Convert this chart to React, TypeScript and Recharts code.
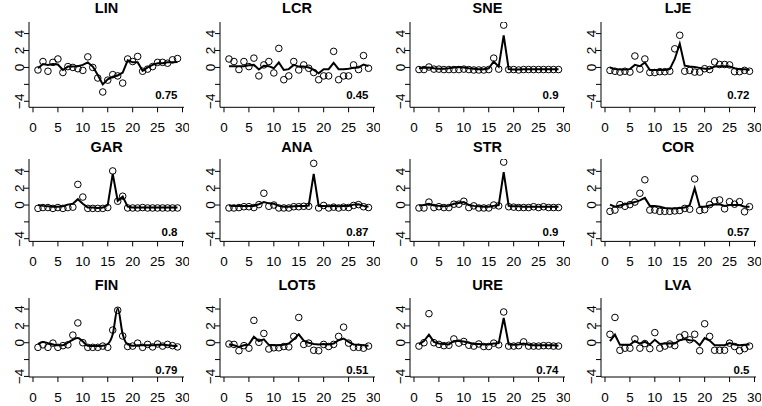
import { LineChart, Line, XAxis, YAxis, ReferenceDot } from 'recharts'

const days = [1, 2, 3, 4, 5, 6, 7, 8, 9, 10, 11, 12, 13, 14, 15, 16, 17, 18, 19, 20, 21, 22, 23, 24, 25, 26, 27, 28, 29]
const panelNames = ['LIN', 'LCR', 'SNE', 'LJE', 'GAR', 'ANA', 'STR', 'COR', 'FIN', 'LOT5', 'URE', 'LVA']
const scores = ['0.75', '0.45', '0.9', '0.72', '0.8', '0.87', '0.9', '0.57', '0.79', '0.51', '0.74', '0.5']
const xTicks = [0, 5, 10, 15, 20, 25, 30]
const yTicks = [-4, -2, 0, 2, 4]

const linObs = [-0.3, 0.7, -0.45, 0.6, 1.0, -0.6, 0.1, 0, -0.15, -0.35, 1.25, 0, -1.25, -2.9, -1.5, -0.85, -1.0, -1.85, 1.0, 0.7, 1.3, -0.45, -0.2, 0.1, 0.6, 0.6, 0.5, 0.9, 1.05]
const linFit = [-0.1, 0.4, 0.3, 0.4, 0.35, -0.3, 0.1, 0.1, 0.15, 0.3, 0.6, 0.1, -0.9, -2.0, -1.4, -1.1, -0.95, -0.6, 0.85, 0.6, 0.6, -0.4, 0, 0.3, 0.5, 0.5, 0.6, 0.6, 0.65]
const lcrObs = [1.0, 0.7, -0.25, 0.7, 0.1, 1.1, -1.0, 0.3, 0.7, -0.65, 2.25, -1.45, -1.0, 0.7, -0.3, 0.3, -0.1, -0.6, -1.45, -1.0, -1.0, 1.9, -1.45, -1.0, -1.0, 0.3, -0.25, 1.4, -0.1]
const lcrFit = [0.15, 0.15, 0.15, 0.15, 0.25, 0.3, -0.25, 0.2, 0.15, -0.1, 0.6, -0.3, -0.2, 0.3, 0.1, 0.1, 0, -0.3, -0.7, -0.2, -0.2, 0.55, -0.2, -0.2, -0.15, -0.05, 0, 0.35, 0.15]
const sneObs = [-0.25, -0.25, 0.05, -0.2, -0.2, -0.25, -0.25, -0.25, -0.25, -0.2, -0.25, -0.3, -0.3, -0.3, -0.25, 1.1, -0.2, 5.0, -0.25, -0.25, -0.3, -0.25, -0.25, -0.25, -0.25, -0.25, -0.25, -0.25, -0.25]
const sneFit = [-0.1, -0.05, 0, -0.1, -0.15, -0.15, -0.1, 0, 0.05, 0, -0.1, -0.15, -0.2, -0.2, -0.1, 0.7, 0.1, 3.8, -0.2, -0.25, -0.25, -0.2, -0.2, -0.2, -0.2, -0.2, -0.2, -0.2, -0.2]
const ljeObs = [-0.35, -0.45, -0.55, -0.45, -0.55, 1.35, -0.2, 1.0, -0.6, -0.6, -0.5, -0.5, -0.45, 2.2, 3.8, -0.45, -0.35, -0.55, -0.55, -0.15, -0.25, 0.65, 0.35, 0.35, 0.3, -0.5, -0.5, -0.35, -0.45]
const ljeFit = [0, -0.2, -0.25, -0.25, -0.2, 0.3, 0.15, 0.6, -0.3, -0.3, -0.3, -0.3, -0.2, 1.0, 2.8, 0.2, 0.1, 0.05, -0.05, -0.15, -0.15, 0.1, 0.15, 0.15, 0.1, -0.1, -0.2, -0.2, -0.3]
const garObs = [-0.4, -0.3, -0.3, -0.4, -0.3, -0.4, -0.3, -0.25, 2.45, 0.95, -0.4, -0.4, -0.4, -0.4, -0.3, 4.05, 0.45, 1.05, -0.35, -0.35, -0.35, -0.3, -0.35, -0.35, -0.35, -0.35, -0.35, -0.35, -0.35]
const garFit = [0, -0.1, -0.15, -0.2, -0.2, -0.15, 0.05, 0.15, 0.7, 0.15, -0.3, -0.3, -0.35, -0.3, 0, 3.7, 0.5, 1.0, -0.2, -0.3, -0.3, -0.3, -0.3, -0.3, -0.3, -0.3, -0.3, -0.3, -0.3]
const anaObs = [-0.35, -0.35, -0.3, -0.2, -0.2, -0.3, 0.05, 1.4, -0.15, 0, -0.35, -0.35, -0.35, -0.2, -0.2, -0.15, -0.15, 4.95, -0.35, -0.05, -0.35, -0.25, -0.35, -0.25, -0.3, -0.05, 0.05, -0.2, -0.3]
const anaFit = [-0.05, -0.1, -0.1, -0.1, -0.1, -0.1, 0.1, 0.35, 0.2, 0.15, -0.1, -0.2, -0.2, -0.15, -0.1, -0.1, -0.05, 3.7, -0.1, -0.1, -0.15, -0.1, -0.15, -0.1, -0.1, 0.05, 0.1, -0.1, -0.2]
const strObs = [-0.35, -0.35, 0.35, -0.3, -0.2, -0.3, -0.3, 0.1, 0.1, 0.45, -0.3, -0.1, -0.35, -0.35, -0.35, 0, -0.1, 5.1, -0.2, -0.25, -0.3, -0.3, -0.3, -0.2, -0.3, -0.2, -0.3, -0.3, -0.3]
const strFit = [-0.05, 0, 0.15, -0.05, -0.1, -0.15, -0.1, 0.15, 0.25, 0.35, 0, -0.1, -0.15, -0.2, -0.2, -0.1, 0, 3.9, -0.1, -0.15, -0.15, -0.2, -0.2, -0.2, -0.2, -0.2, -0.2, -0.2, -0.2]
const corObs = [-0.75, -0.6, 0.05, -0.15, 0.05, 0.35, 1.4, 3.0, -0.6, -0.6, -0.75, -0.75, -0.75, -0.7, -0.65, -0.4, -0.5, 3.1, -0.65, -0.55, 0.05, 0.5, 0.6, -0.45, 0.4, 0.1, 0.4, -0.8, -0.2]
const corFit = [0.05, -0.2, -0.05, 0.1, 0.2, 0.35, 0.55, 0.85, -0.1, -0.1, -0.2, -0.35, -0.4, -0.4, -0.35, -0.3, 0, 2.0, -0.2, -0.2, -0.05, 0.05, 0.1, -0.1, 0, 0, 0, -0.2, -0.2]
const finObs = [-0.55, -0.25, -0.55, -0.05, -0.55, -0.35, -0.25, 0.9, 2.35, 0, -0.55, -0.55, -0.55, -0.4, -0.55, 1.5, 3.85, 0.8, -0.45, -0.4, -0.05, -0.55, -0.2, -0.5, -0.15, -0.4, -0.2, -0.35, -0.5]
const finFit = [-0.15, 0.1, -0.05, -0.2, -0.3, -0.3, 0, 0.35, 0.55, 0.15, -0.35, -0.4, -0.4, -0.35, -0.15, 1.0, 4.1, 1.0, -0.2, -0.35, -0.3, -0.3, -0.3, -0.3, -0.25, -0.25, -0.3, -0.35, -0.4]
const lot5Obs = [-0.15, -0.2, -0.95, -0.35, -0.65, 2.65, 0.05, 1.1, -0.75, -0.6, -0.6, -0.45, -0.5, 0.75, 3.0, -0.2, -0.05, -0.9, -0.95, -0.2, -0.45, -0.2, 0.75, 1.85, -0.05, -0.55, -0.55, -0.65, -0.4]
const lot5Fit = [-0.2, -0.3, -0.5, -0.3, -0.2, 0.7, 0.2, 0.4, -0.25, -0.3, -0.3, -0.25, -0.1, 0.4, 1.0, 0.25, 0, -0.15, -0.2, -0.15, -0.2, -0.1, 0.3, 0.5, 0.1, -0.2, -0.25, -0.3, -0.35]
const ureObs = [-0.4, 0, 3.45, 0, -0.2, -0.35, -0.3, 0.45, -0.05, 0.15, -0.3, -0.4, -0.15, -0.45, -0.45, -0.05, -0.25, 3.65, -0.4, -0.4, -0.35, 0.1, -0.4, -0.4, -0.4, -0.35, -0.35, -0.4, -0.4]
const ureFit = [-0.2, 0.2, 0.95, 0.1, -0.1, -0.15, -0.2, 0.2, 0.2, 0.15, 0, -0.15, -0.15, -0.2, -0.2, -0.1, -0.05, 2.95, -0.2, -0.25, -0.2, -0.1, -0.25, -0.3, -0.3, -0.3, -0.3, -0.3, -0.35]
const lvaObs = [1.0, 3.0, -0.9, -0.65, -0.65, 0.45, -0.65, -0.1, -0.7, 1.2, -0.65, -0.4, -0.15, -0.35, 0.65, 0.95, 0.35, 1.0, -0.95, 2.25, 0.75, -0.9, -0.9, -0.9, -0.05, -0.45, -0.95, -0.7, -0.4]
const lvaFit = [0.2, 0.95, -0.25, -0.25, -0.25, 0.2, -0.1, 0.1, -0.2, 0.35, -0.15, -0.1, -0.05, -0.1, 0.3, 0.45, 0.3, 0.25, -0.3, 0.55, 0.25, -0.3, -0.3, -0.3, -0.05, -0.2, -0.3, -0.25, -0.2]

const observed = [linObs, lcrObs, sneObs, ljeObs, garObs, anaObs, strObs, corObs, finObs, lot5Obs, ureObs, lvaObs]
const fitted = [linFit, lcrFit, sneFit, ljeFit, garFit, anaFit, strFit, corFit, finFit, lot5Fit, ureFit, lvaFit]

// layout, per row of panels (pixels on the page + y range of the plot box)
const rows = [
  { top: 21.7, bottom: 107, yMin: -4.71, yMax: 5.37, titleY: 13.3 },
  { top: 159.3, bottom: 241.7, yMin: -4.32, yMax: 5.47, titleY: 152.3 },
  { top: 298.3, bottom: 377.3, yMin: -4.07, yMax: 5.31, titleY: 290 },
]
const font = '"Liberation Sans", Arial, Helvetica, sans-serif'
const colW = 190.5
const axisW = 29
const plotW = 155

const XTick = (p: any) => (
  <text x={p.x} y={p.y} dy="0.71em" textAnchor="middle" fontSize={13.5} fontFamily={font} fill="#000">
    {p.payload.value}
  </text>
)

const YTick = (p: any) => {
  const v = p.payload.value
  const label = v === -2 ? '' : v < 0 ? '\u2212' + Math.abs(v) : String(v)
  const x = axisW - 5
  return (
    <text x={x} y={p.y} transform={`rotate(-90 ${x} ${p.y})`} textAnchor="middle" fontSize={13.5} fontFamily={font} fill="#000">
      {label}
    </text>
  )
}

function Panel({ i }: { i: number }) {
  const row = rows[Math.floor(i / 4)]
  const col = i % 4
  const data = days.map((d, k) => ({ x: d, obs: observed[i][k], fit: fitted[i][k] }))
  const h = row.bottom - row.top
  return (
    <div style={{ position: 'absolute', left: col * colW, top: row.top }}>
      <LineChart width={axisW + plotW + 5} height={h + 32} data={data} margin={{ top: 0, right: 5, bottom: 0, left: 0 }}>
        <XAxis
          dataKey="x"
          type="number"
          domain={[-0.8, 30.3]}
          ticks={xTicks}
          interval={0}
          allowDataOverflow
          height={32}
          stroke="#000"
          tickSize={5}
          tickMargin={10}
          tick={<XTick />}
        />
        <YAxis
          type="number"
          domain={[row.yMin, row.yMax]}
          ticks={yTicks}
          interval={0}
          allowDataOverflow
          width={axisW}
          stroke="#000"
          tickSize={5}
          tickMargin={0}
          tick={<YTick />}
        />
        <Line
          dataKey="fit"
          type={panelNames[i] === 'FIN' ? 'monotone' : 'linear'}
          stroke="#000"
          strokeWidth={2}
          dot={false}
          activeDot={false}
          isAnimationActive={false}
        />
        <Line
          dataKey="obs"
          stroke="none"
          dot={{ r: 3.3, stroke: '#000', strokeWidth: 1, fill: 'none' }}
          activeDot={false}
          isAnimationActive={false}
        />
        <ReferenceDot
          x={29}
          y={-3.2}
          r={0}
          shape={(p: any) => (
            <text x={p.cx} y={p.cy} textAnchor="end" dominantBaseline="central" fontSize={11.5} fontWeight="bold" fontFamily={font} fill="#000">
              {scores[i]}
            </text>
          )}
        />
      </LineChart>
    </div>
  )
}

export default function App() {
  return (
    <div style={{ position: 'absolute', left: 0, top: 0, width: 762, height: 406, background: '#fff', overflow: 'hidden' }}>
      {panelNames.map((_, i) => <Panel key={i} i={i} />)}
      <svg width={762} height={406} style={{ position: 'absolute', left: 0, top: 0, pointerEvents: 'none' }}>
        {panelNames.map((name, i) => (
          <text
            key={name}
            x={(i % 4) * colW + axisW + plotW / 2}
            y={rows[Math.floor(i / 4)].titleY}
            textAnchor="middle"
            fontSize={14.5}
            fontWeight="bold"
            fontFamily={font}
            fill="#000"
          >
            {name}
          </text>
        ))}
      </svg>
    </div>
  )
}
